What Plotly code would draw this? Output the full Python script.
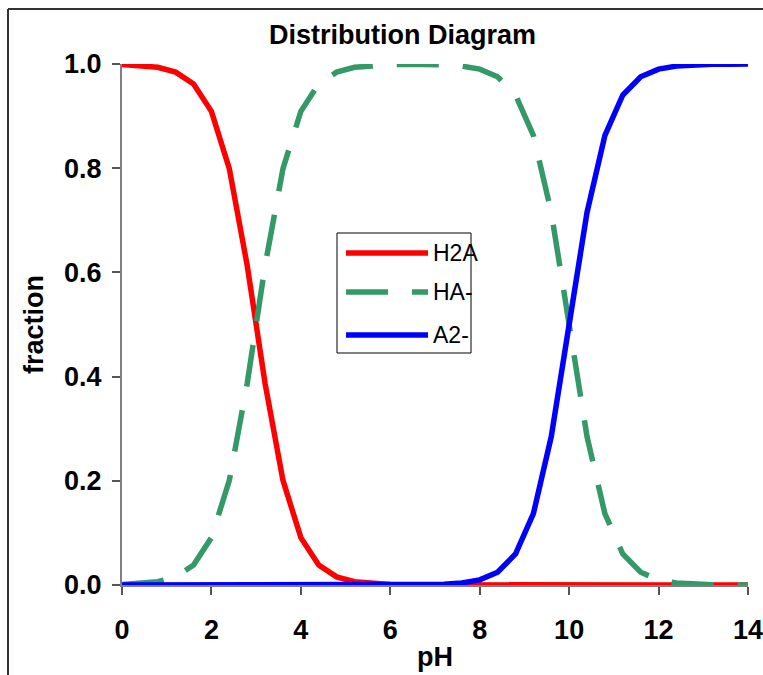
import plotly.graph_objects as go

pH = [0.0, 0.4, 0.8, 1.2, 1.6, 2.0, 2.4, 2.8, 3.2, 3.6, 4.0, 4.4, 4.8, 5.2, 5.6, 6.0,
      6.4, 6.8, 7.2, 7.6, 8.0, 8.4, 8.8, 9.2, 9.6, 10.0, 10.4, 10.8, 11.2, 11.6, 12.0,
      12.4, 12.8, 13.2, 13.6, 14.0]
h2a = [0.999, 0.9975, 0.9937, 0.9844, 0.9617, 0.9091, 0.7993, 0.6131, 0.3869, 0.2007,
       0.0909, 0.0383, 0.0156, 0.0063, 0.0025, 0.0010, 0.0004, 0.0002, 0.0001,
       0, 0, 0, 0, 0, 0, 0, 0, 0, 0, 0, 0, 0, 0, 0, 0, 0]
ha = [0.0010, 0.0025, 0.0063, 0.0156, 0.0383, 0.0909, 0.2007, 0.3869, 0.6131, 0.7993,
      0.9091, 0.9617, 0.9844, 0.9937, 0.9975, 0.9989, 0.9993, 0.9992, 0.9983, 0.9960,
      0.9901, 0.9755, 0.9406, 0.8632, 0.7153, 0.5, 0.2847, 0.1368, 0.0594, 0.0245,
      0.0099, 0.0040, 0.0016, 0.0006, 0.0003, 0.0001]
a2 = [0, 0, 0, 0, 0, 0, 0, 0, 0, 0, 0, 0, 0, 0, 0,
      0.0001, 0.0003, 0.0006, 0.0016, 0.0040, 0.0099, 0.0245, 0.0594, 0.1368, 0.2847,
      0.5, 0.7153, 0.8632, 0.9406, 0.9755, 0.9901, 0.9960, 0.9984, 0.9994, 0.9997, 0.9999]

names = ["H2A", "HA-", "A2-"]
colors = ["#FF0000", "#339966", "#0000FF"]
dashes = ["solid", "42px,24px", "solid"]
series = [h2a, ha, a2]

W, H = 763, 675
L, R, T, B = 122, 15, 64, 90
pw, ph = W - L - R, H - T - B

def px(x):
    return (x - L) / pw

def py(y):
    return (H - B - y) / ph

fig = go.Figure()
for n, c, d, s in zip(names, colors, dashes, series):
    fig.add_trace(go.Scatter(x=pH, y=s, mode="lines", name=n,
                             line=dict(color=c, width=5.5, dash=d),
                             cliponaxis=False))

font_b = dict(family="Liberation Sans, Arial, sans-serif", size=27, color="black")

shapes = []
annots = []
# outer frame
shapes.append(dict(type="line", xref="paper", yref="paper", x0=px(8), x1=px(8),
                   y0=py(9), y1=py(700), line=dict(color="#333333", width=2)))
shapes.append(dict(type="line", xref="paper", yref="paper", x0=px(8), x1=px(800),
                   y0=py(9), y1=py(9), line=dict(color="#333333", width=2)))
# legend box
shapes.append(dict(type="rect", xref="paper", yref="paper", x0=px(337), x1=px(471),
                   y0=py(353), y1=py(233), line=dict(color="black", width=1),
                   fillcolor="white", layer="below"))
rows = [253, 292, 335]
for n, c, d, r in zip(names, colors, dashes, rows):
    shapes.append(dict(type="line", xref="paper", yref="paper", x0=px(346), x1=px(428),
                       y0=py(r), y1=py(r), line=dict(color=c, width=5.5, dash=d)))
    annots.append(dict(text=n, xref="paper", yref="paper", x=px(431), y=py(r),
                       xanchor="left", yanchor="middle", showarrow=False,
                       font=dict(family="Liberation Sans, Arial, sans-serif", size=23,
                                 color="black")))

annots.append(dict(text="<b>Distribution Diagram</b>", xref="paper", yref="paper",
                   x=px(402), y=py(35), xanchor="center", yanchor="middle",
                   showarrow=False, font=font_b))
annots.append(dict(text="<b>pH</b>", xref="paper", yref="paper",
                   x=px(435), y=py(657), xanchor="center", yanchor="middle",
                   showarrow=False, font=font_b))
annots.append(dict(text="<b>fraction</b>", xref="paper", yref="paper",
                   x=px(34), y=py(325), xanchor="center", yanchor="middle",
                   textangle=-90, showarrow=False, font=font_b))

axis_common = dict(showgrid=False, zeroline=False, showline=True, linecolor="#808080",
                   linewidth=2, ticks="outside", ticklen=8, tickcolor="#555555",
                   tickwidth=1.5, ticklabeloverflow="allow", automargin=False,
                   tickfont=dict(family="Liberation Sans, Arial, sans-serif",
                                 size=27, color="black", weight="bold"))

fig.update_layout(
    width=W, height=H,
    margin=dict(l=L, r=R, t=T, b=B),
    paper_bgcolor="white", plot_bgcolor="white",
    showlegend=False,
    shapes=shapes, annotations=annots,
    xaxis=dict(range=[0, 14], tickvals=[0, 2, 4, 6, 8, 10, 12, 14],
               ticklabelstandoff=12, **axis_common),
    yaxis=dict(range=[0, 1], tickvals=[0, 0.2, 0.4, 0.6, 0.8, 1.0], tickformat=".1f",
               ticklabelstandoff=5, **axis_common),
)

fig.write_html("out.html", config={"displayModeBar": False},
               post_script="document.body.style.margin='0';document.body.style.overflow='hidden';")
